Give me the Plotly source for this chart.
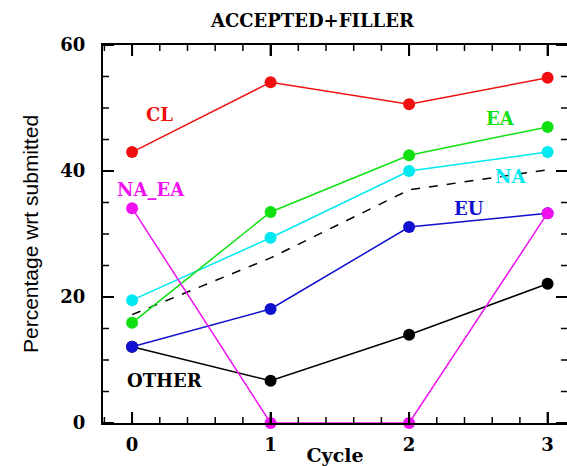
import plotly.graph_objects as go

cycles = [0, 1, 2, 3]
cl = [43.0, 54.1, 50.6, 54.8]
ea = [15.9, 33.5, 42.5, 47.0]
na = [19.5, 29.4, 40.0, 43.0]
avg = [17.2, 26.2, 37.0, 40.2]
eu = [12.1, 18.1, 31.1, 33.3]
na_ea = [34.1, 0.0, 0.0, 33.3]
other = [12.1, 6.7, 14.0, 22.1]
x_ticks = [0, 1, 2, 3]
y_ticks = [0, 20, 40, 60]
x_minor_step = 0.2
y_minor_step = 5
x_range = [-0.21, 3.14]
y_range = [0, 60]

W, H = 567, 466
M = dict(l=103, r=0, t=45, b=43)
px_x = (W - M["l"] - M["r"]) / (x_range[1] - x_range[0])
px_y = (H - M["t"] - M["b"]) / (y_range[1] - y_range[0])

series = [
    ("OTHER", other, "#000000"),
    ("EU", eu, "#1010d0"),
    ("NA", na, "#00e8f0"),
    ("EA", ea, "#10e010"),
    ("CL", cl, "#f01010"),
    ("NA_EA", na_ea, "#f010f0"),
]

fig = go.Figure()

fig.add_trace(go.Scatter(x=cycles, y=avg, mode="lines",
                         line=dict(color="black", width=1.5, dash="dash"),
                         showlegend=False, hoverinfo="skip"))
for name, vals, col in series:
    fig.add_trace(go.Scatter(x=cycles, y=vals, mode="lines+markers", name=name,
                             line=dict(color=col, width=1.5),
                             marker=dict(color=col, size=12),
                             showlegend=False, cliponaxis=False))

# inside frame ticks on all four sides (minor + major), as layout line shapes
def add_ticks(major_len, minor_len):
    n_x = int(round((x_range[1] - x_range[0]) / x_minor_step)) + 2
    for i in range(-n_x, n_x):
        v = round(x_ticks[0] + x_minor_step * i, 2)
        if not (x_range[0] < v < x_range[1]):
            continue
        major = any(abs(v - t) < 1e-6 for t in x_ticks)
        L = (major_len if major else minor_len) / px_y
        w = 2 if major else 1.5
        for y0, y1 in ((y_range[0], y_range[0] + L), (y_range[1], y_range[1] - L)):
            fig.add_shape(type="line", xref="x", yref="y", x0=v, x1=v, y0=y0, y1=y1,
                          line=dict(color="black", width=w), layer="above")
    n_y = int(round((y_range[1] - y_range[0]) / y_minor_step))
    for i in range(n_y + 1):
        v = y_range[0] + y_minor_step * i
        major = v in y_ticks
        L = (major_len if major else minor_len) / px_x
        w = 2 if major else 1.5
        for x0, x1 in ((x_range[0], x_range[0] + L), (x_range[1], x_range[1] - L)):
            fig.add_shape(type="line", xref="x", yref="y", x0=x0, x1=x1, y0=v, y1=v,
                          line=dict(color="black", width=w), layer="above")

add_ticks(11, 6)

labels = [
    ("CL", 0.2, 48.9, "#f01010"),
    ("NA_EA", 0.14, 37.0, "#f010f0"),
    ("OTHER", 0.24, 6.8, "#000000"),
    ("EA", 2.66, 48.3, "#10e010"),
    ("NA", 2.73, 39.2, "#00e8f0"),
    ("EU", 2.43, 34.1, "#1010d0"),
]
for t, x, y, c in labels:
    fig.add_annotation(x=x, y=y, text=t, showarrow=False,
                       font=dict(family="DejaVu Serif", size=18, color=c, weight="bold"))

fig.add_annotation(xref="paper", yref="paper", x=(312 - 103) / 464, y=1 + 25 / 378,
                   text="ACCEPTED+FILLER", showarrow=False, yanchor="middle",
                   font=dict(family="DejaVu Serif", size=18, color="black", weight="bold"))
fig.add_annotation(xref="paper", yref="paper", x=(300 - 103) / 464, y=1 + 46 / 378,
                   text="O.E", showarrow=False, yanchor="bottom",
                   font=dict(family="DejaVu Serif", size=16, color="#3030ff", weight="bold"))

tickfont = dict(family="DejaVu Serif", size=18, color="black", weight="bold")

fig.update_layout(
    template="none",
    width=W, height=H, margin=M,
    plot_bgcolor="white", paper_bgcolor="white", showlegend=False,
    xaxis=dict(range=x_range, tickmode="array", tickvals=x_ticks,
               ticks="inside", ticklen=11, tickwidth=2, tickcolor="black",
               showline=True, linecolor="black", linewidth=2, mirror="allticks",
               showgrid=False, zeroline=False, tickfont=tickfont, automargin=False,
               ticklabelstandoff=4,
               title=dict(text="Cycle", standoff=4,
                          font=dict(family="DejaVu Serif", size=19, color="black", weight="bold"))),
    yaxis=dict(range=y_range, tickmode="array", tickvals=y_ticks,
               ticks="inside", ticklen=11, tickwidth=2, tickcolor="black",
               showline=True, linecolor="black", linewidth=2, mirror="allticks",
               showgrid=False, zeroline=False, tickfont=tickfont, automargin=False,
               ticklabelstandoff=12,
               title=dict(text="Percentage wrt submitted", standoff=16,
                          font=dict(family="Liberation Sans", size=21, color="black"))),
)

fig.write_html("out.html")
